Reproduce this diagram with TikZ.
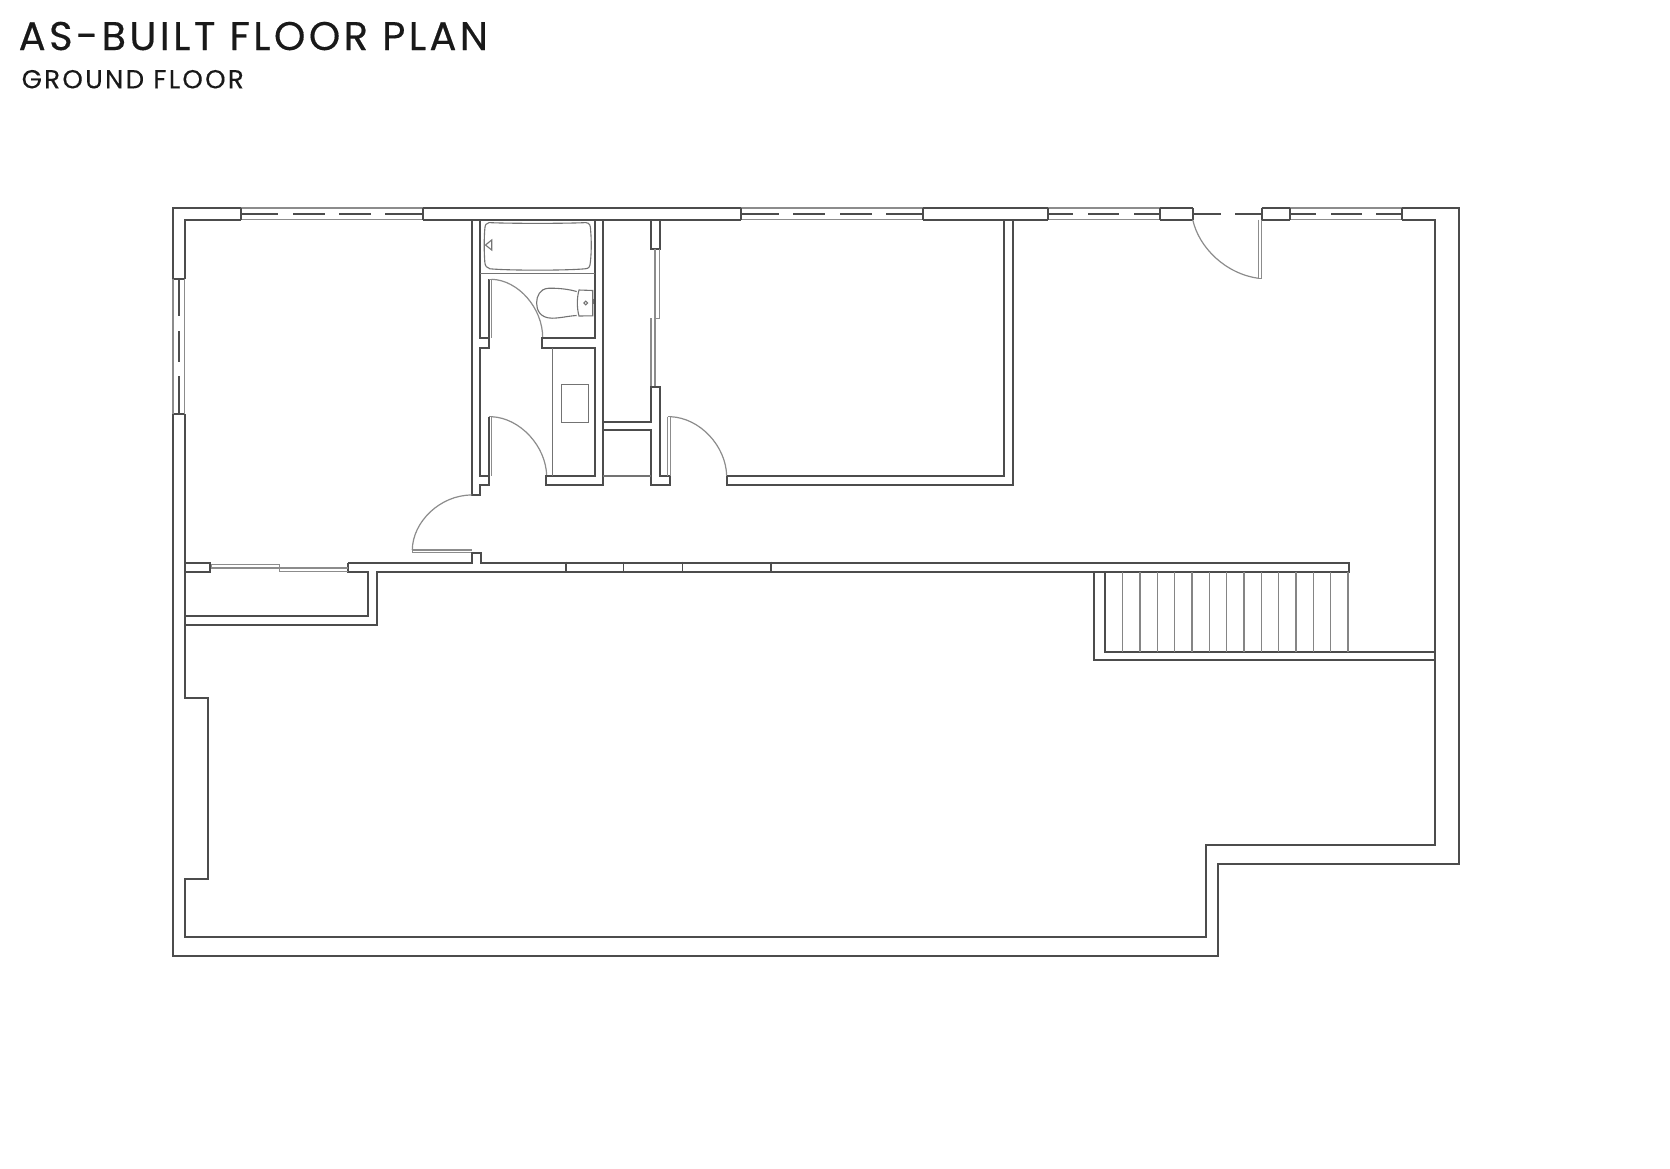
\documentclass[tikz,border=0pt]{standalone}
\usepackage{fontspec}
\setmainfont{Poppins}
\newfontfamily\titlefont[LetterSpace=8.6,FakeBold=0.35]{Poppins}
\newfontfamily\subtitlefont[LetterSpace=9,FakeBold=0.25]{Poppins}
\definecolor{wallc}{gray}{0.3}
\definecolor{thinc}{gray}{0.55}
\tikzset{
  wall/.style={draw=wallc,line width=1.7pt,line cap=square,line join=miter},
  jamb/.style={draw=wallc,line width=1.8pt},
  glass/.style={draw=thinc,line width=1.2pt},
  mullion/.style={draw=wallc,line width=1.6pt},
  swing/.style={draw=thinc,line width=1.2pt},
  fixture/.style={draw=black!55,line width=1.1pt},
  tread/.style={draw=black!48,line width=1.2pt},
  titletext/.style={anchor=base west,inner sep=0pt,text=black!90},
}
\begin{document}
\begin{tikzpicture}[x=1pt,y=-1pt]
\useasboundingbox (0,0) rectangle (1670,1168);
\fill[white] (0,0) rectangle (1670,1168);

\node[titletext,font=\titlefont\fontsize{40}{40}\selectfont] (title) at (18.5,50) {AS-BUILT FLOOR PLAN};
\node[titletext,font=\subtitlefont\fontsize{26}{26}\selectfont] (subtitle) at (21.5,88.3) {GROUND FLOOR};

% outer perimeter
\draw[wall] (173,279) -- (173,208) -- (240.7,208);
\draw[wall] (423.3,208) -- (740.7,208);
\draw[wall] (923.3,208) -- (1048.3,208);
\draw[wall] (1160,208) -- (1192.7,208);
\draw[wall] (1261.7,208) -- (1290,208);
\draw[wall] (1402.3,208) -- (1459.3,208) -- (1459.3,864.3) -- (1217.7,864.3) -- (1217.7,955.7) -- (173,955.7) -- (173,414);

% inner perimeter
\draw[wall] (240.7,219.7) -- (184.7,219.7) -- (184.7,279);
\draw[wall] (173,279) -- (184.7,279);
\draw[wall] (173,414) -- (184.7,414);
\draw[wall] (184.7,414) -- (184.7,698.3) -- (207.7,698.3) -- (207.7,878.7) -- (184.7,878.7) -- (184.7,936.8) -- (1206,936.8) -- (1206,845) -- (1435,845) -- (1435,219.7) -- (1402.3,219.7);
\draw[wall] (423.3,219.7) -- (740.7,219.7);
\draw[wall] (923.3,219.7) -- (1048.3,219.7);
\draw[wall] (1160,219.7) -- (1192.7,219.7);
\draw[wall] (1261.7,219.7) -- (1290,219.7);

% window glazing, top wall
\foreach \a/\b in {240.7/423.3,740.7/923.3,1048.3/1160,1290/1402.3}{
  \draw[glass] (\a,208) -- (\b,208);
  \draw[glass] (\a,219.7) -- (\b,219.7);
  \draw[jamb] (\a,208) -- (\a,219.7);
  \draw[jamb] (\b,208) -- (\b,219.7);
}
\foreach \a/\b in {240.7/278.3,293.3/325,339/370.7,385/423.3,
                   740.7/779.3,793.3/825,840/871.7,886/923.3,
                   1048.3/1073,1088/1119,1134/1160,
                   1290/1316,1331/1362,1376/1402.3,
                   1192.7/1220.7,1235/1261.7}{
  \draw[mullion] (\a,213.8) -- (\b,213.8);
}
\draw[jamb] (1192.7,208) -- (1192.7,219.7);
\draw[jamb] (1261.7,208) -- (1261.7,219.7);

% left window
\draw[glass] (173,279) -- (173,414);
\draw[glass] (184.7,279) -- (184.7,414);
\foreach \a/\b in {279/316,331/362,376/414}{
  \draw[mullion] (178.8,\a) -- (178.8,\b);
}

% entry door, top right
\draw[glass] (1258.7,219.7) -- (1258.7,278.3) -- (1261.7,278.3) -- (1261.7,219.7);
\draw[swing] (1192.7,219.7) .. controls (1199,248) and (1226,274) .. (1258.7,278.3);

% bathroom: left wall
\draw[wall] (480.3,219.7) -- (480.3,338.3) -- (488.7,338.3) -- (488.7,347.7) -- (480.3,347.7) -- (480.3,476) -- (488.7,476) -- (488.7,485) -- (480.3,485) -- (480.3,495) -- (471.7,495) -- (471.7,219.7);
% bathroom: door leaves
\draw[wall] (488.7,279.3) -- (488.7,338.3);
\draw[wall] (488.7,416.7) -- (488.7,476);
\draw[glass] (488.7,279.3) -- (491.7,279.3) -- (491.7,338.3);
\draw[glass] (488.7,416.7) -- (491.7,416.7) -- (491.7,476);
\draw[swing] (491.7,279.3) .. controls (518,280) and (543,308) .. (542.7,338.3);
\draw[swing] (491.7,416.7) .. controls (520,418) and (546,446) .. (546.7,476);
% bathroom: right wall, partitions
\draw[wall] (595,219.7) -- (595,338.3) -- (541.7,338.3) -- (541.7,347.7) -- (595,347.7) -- (595,476) -- (546,476) -- (546,485) -- (603.3,485) -- (603.3,219.7);
\draw[fixture] (480.3,273.3) -- (595,273.3);
\draw[fixture] (552.3,347.7) -- (552.3,476);
\draw[fixture] (561.7,384.3) rectangle (588.3,422.3);

% tub
\draw[fixture] (489,222.6) .. controls (510,223.6) and (565,223.6) .. (586,222.6)
  .. controls (590,223) and (590.5,226) .. (590.6,230)
  .. controls (591.5,240) and (591.5,252) .. (590.4,262)
  .. controls (590,267) and (589,268.5) .. (585,268.8)
  .. controls (565,270.6) and (510,270.6) .. (490,268.8)
  .. controls (487,268.3) and (485,266) .. (484.8,262)
  .. controls (484,250) and (484,240) .. (484.8,229)
  .. controls (485,225) and (486,223) .. (489,222.6) -- cycle;
\draw[fixture] (491.7,240) -- (491.7,250) -- (485.5,245) -- cycle;

% toilet
\draw[fixture] (576.7,291.5) .. controls (566,288.5) and (555,288) .. (548,288.3)
  .. controls (540,289) and (536.6,296) .. (536.6,303)
  .. controls (536.6,310) and (540,318) .. (552,318.2)
  .. controls (560,318.2) and (568,316) .. (576.7,315.5);
\draw[fixture] (579,290) -- (592.7,290.5) -- (592.7,315.8) -- (579,316)
  .. controls (576.8,308) and (576.8,298) .. (579,290) -- cycle;
\draw[fixture] (585.7,303) circle (1.9pt);
\draw[fixture] (593.5,298.5) -- (593.5,304);

% closet
\draw[wall] (651,219.7) -- (651,249.3) -- (660,249.3) -- (660,219.7);
\draw[glass] (655,249.3) -- (655,318.3) -- (659.3,318.3) -- (659.3,249.3);
\draw[glass] (651,318.3) -- (651,387.3);
\draw[glass] (655,318.3) -- (655,387.3);
\draw[wall] (603.3,421.7) -- (651,421.7) -- (651,387.3) -- (660,387.3) -- (660,476) -- (670,476) -- (670,485) -- (651,485) -- (651,430) -- (603.3,430);
\draw[fixture] (603.3,476) -- (651,476);
\draw[glass] (667.7,416.7) -- (667.7,476);
\draw[glass] (667.7,416.7) -- (670.7,416.7) -- (670.7,476);
\draw[swing] (670.7,416.7) .. controls (700,418) and (726,446) .. (726.7,476);

% central room
\draw[wall] (727.3,476) -- (1004.3,476) -- (1004.3,219.7);
\draw[wall] (727.3,476) -- (727.3,485) -- (1012.9,485) -- (1012.9,219.7);

% lower-left door
\draw[swing] (471.7,495) .. controls (440,495) and (412.5,522) .. (412.3,550);
\draw[glass] (412.3,550) -- (471.7,550);
\draw[glass] (412.3,550) -- (412.3,552.7) -- (471.7,552.7);

% middle wall
\draw[wall] (348.3,562.7) -- (471.7,562.7) -- (471.7,552.7) -- (480.7,552.7) -- (480.7,562.7) -- (1349.3,562.7) -- (1349.3,571.7) -- (376.7,571.7) -- (376.7,624.7) -- (184.7,624.7);
\draw[wall] (184.7,615.7) -- (367.7,615.7) -- (367.7,571.7) -- (348.3,571.7) -- (348.3,562.7);
\draw[wall] (184.7,562.7) -- (210,562.7) -- (210,571.7) -- (184.7,571.7);
\draw[jamb] (348.3,562.7) -- (348.3,571.7);
\draw[jamb] (210,562.7) -- (210,571.7);
\foreach \x in {566,623.5,682.7,771}{
  \draw[jamb,line width=1.4pt] (\x,561.5) -- (\x,573);
}
% sliding door
\draw[glass] (211.7,564.3) -- (279.3,564.3) -- (279.3,568) -- (211.7,568) -- cycle;
\draw[glass] (279.3,568) -- (348.3,568);
\draw[glass] (279.3,568) -- (279.3,571.7) -- (348.3,571.7);

% stairs
\draw[wall] (1094,571.7) -- (1094,660) -- (1435,660);
\draw[wall] (1105,571.7) -- (1105,651.7) -- (1435,651.7);
\foreach \x in {1122.3,1140,1157.3,1174.7,1192,1209.3,1226.7,1244,1261.3,1278.7,1296,1313.3,1330.7,1348}{
  \draw[tread] (\x,571.7) -- (\x,651.7);
}
\end{tikzpicture}
\end{document}
